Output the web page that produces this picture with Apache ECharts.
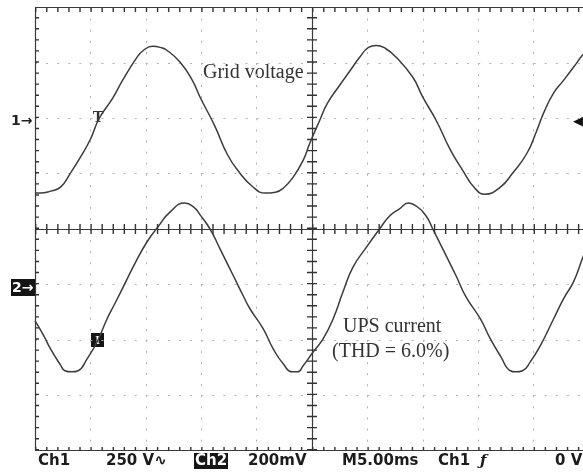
<!DOCTYPE html>
<html>
<head>
<meta charset="utf-8">
<script src="https://cdn.jsdelivr.net/npm/echarts@6/dist/echarts.min.js"></script>
<style>
  html, body { margin: 0; padding: 0; background: #fff; }
  #scope { width: 583px; height: 472px; }
</style>
</head>
<body>
<div id="scope"></div>
<script>
// scope settings: 5 ms/div, Ch1 250 V/div (ground 2 div above centre), Ch2 200 mV/div (ground 1 div below)
const TIME_PER_DIV = 5
const CH1_PER_DIV = 250
const CH2_PER_DIV = 200
// the photo cuts the graticule a little before its 10th division
const VISIBLE_DIVS = 548 / 55.4

// Ch1 - grid voltage, time in ms, value in V
const ch1Time = [0, 0.5, 1.4, 2.3, 3.2, 4.1, 5.0, 5.8, 7.0, 7.9, 9.2, 9.8, 10.6, 11.3, 11.9,
  13.1, 14.2, 14.9, 16.2, 17.4, 18.5, 19.6, 20.8, 21.7, 22.4, 23.3, 24.2, 24.8, 25.7, 26.4,
  27.5, 28.4, 29.3, 30.1, 30.8, 31.6, 32.6, 34.1, 35.0, 36.2, 37.5, 38.6, 39.7, 40.6, 42.0,
  43.1, 44.4, 45.3, 45.9, 46.8, 47.7, 48.6, 49.4, 50.0]
const ch1Volts = [-338, -338, -329, -311, -248, -176, -95, 0, 90, 171, 275, 307, 325, 320, 307,
  253, 171, 95, -32, -167, -248, -307, -338, -334, -316, -266, -190, -113, -9, 68,
  149, 212, 275, 320, 329, 316, 275, 185, 95, -9, -144, -235, -316, -343, -311,
  -248, -158, -54, 23, 113, 171, 230, 284, 316]

// Ch2 - UPS current (probe output), time in ms, value in mV
const ch2Time = [0, 0.7, 1.4, 2.3, 2.7, 3.3, 3.9, 4.7, 5.6, 6.5, 7.2, 8.1, 9.0, 10.1, 11.1,
  12.2, 13.5, 14.3, 14.9, 15.8, 16.7, 17.9, 18.8, 19.4, 20.6, 21.5, 22.4, 23.2, 23.7, 24.2,
  25.1, 26.0, 26.9, 27.8, 28.7, 30.0, 31.1, 32.0, 32.9, 33.7, 34.4, 35.3, 35.9, 36.8, 38.0,
  38.9, 40.2, 41.1, 42.0, 42.9, 43.4, 44.0, 44.7, 45.6, 46.8, 47.7, 48.6, 49.5, 50.0]
const ch2Millivolts = [-132, -179, -233, -291, -312, -316, -312, -269, -208, -125, -70, 2, 74, 153, 208,
  262, 294, 280, 251, 200, 128, 31, -42, -88, -161, -233, -287, -316, -316, -294,
  -244, -197, -125, -27, 62, 139, 200, 247, 273, 294, 283, 247, 200, 128, 31,
  -45, -125, -197, -258, -312, -316, -312, -280, -222, -125, -52, 9, 103, 146]

const chart = echarts.init(document.getElementById('scope'))

const INK = '#3a3a3a'
const DOTS = { color: '#b2b2b2', width: 1, type: [2, 9.08], cap: 'butt' }
const FRAME = { color: INK, width: 1.2, cap: 'butt' }
// minor-division marks: a wide dashed line gives one short mark every 1/5 div
const marks = (w) => ({ color: '#333', width: w, type: [1.4, 9.68], cap: 'butt' })
const TRACE = '#3c3c3c'
const SERIF = '"Liberation Serif", "DejaVu Serif", serif'
const MONO = 'bold 15px "DejaVu Sans", sans-serif'

// graticule axis in divisions (border and centre cross)
function divAxis(min, max, position, offset, lineStyle, extra) {
  return Object.assign({
    type: 'value',
    min: min,
    max: max,
    interval: 1,
    position: position,
    offset: offset,
    axisLine: { show: true, onZero: false, lineStyle: lineStyle },
    axisTick: { show: false },
    minorTick: { show: false },
    axisLabel: { show: false },
    splitLine: { show: false },
    silent: true,
  }, extra)
}

const pairs = (xs, ys) => xs.map((x, i) => [x, ys[i]])
const XD = VISIBLE_DIVS

chart.setOption({
  animation: false,
  backgroundColor: '#fff',
  grid: { left: 35, top: 7.5, width: 548, height: 443 },
  xAxis: [
    {
      type: 'value', position: 'bottom',
      min: 0, max: VISIBLE_DIVS * TIME_PER_DIV, interval: TIME_PER_DIV,
      axisLine: { show: true, onZero: false, lineStyle: FRAME },
      axisTick: { show: false },
      axisLabel: { show: false },
      splitLine: { show: true, lineStyle: DOTS },
    },
    divAxis(0, XD, 'top', 0, FRAME),
    divAxis(0, XD, 'bottom', -2, marks(4)),
    divAxis(0, XD, 'top', -2, marks(4)),
    divAxis(0, XD, 'bottom', -221.5, FRAME),
    divAxis(0, XD, 'bottom', -221.5, marks(10)),
  ],
  yAxis: [
    { type: 'value', show: false, min: -6 * CH1_PER_DIV, max: 2 * CH1_PER_DIV },
    { type: 'value', show: false, min: -3 * CH2_PER_DIV, max: 5 * CH2_PER_DIV },
    divAxis(-4, 4, 'left', 0, FRAME, { splitLine: { show: true, lineStyle: DOTS } }),
    divAxis(-4, 4, 'left', -2, marks(4)),
    divAxis(-4, 4, 'left', -277, FRAME),
    divAxis(-4, 4, 'left', -277, marks(10)),
  ],
  series: [
    {
      name: 'Grid voltage',
      type: 'line',
      xAxisIndex: 0,
      yAxisIndex: 0,
      data: pairs(ch1Time, ch1Volts),
      showSymbol: false,
      smooth: 0.5,
      lineStyle: { color: TRACE, width: 1.5 },
    },
    {
      name: 'UPS current',
      type: 'line',
      xAxisIndex: 0,
      yAxisIndex: 1,
      data: pairs(ch2Time, ch2Millivolts),
      showSymbol: false,
      smooth: 0.5,
      lineStyle: { color: TRACE, width: 1.5 },
    },
  ],
  graphic: [
    // annotations
    { type: 'text', x: 203, y: 73, style: { text: 'Grid voltage', font: '20px ' + SERIF, fill: '#333', verticalAlign: 'middle' } },
    { type: 'text', x: 343, y: 327, style: { text: 'UPS current', font: '20px ' + SERIF, fill: '#333', verticalAlign: 'middle' } },
    { type: 'text', x: 332, y: 352, style: { text: '(THD = 6.0%)', font: '20px ' + SERIF, fill: '#333', verticalAlign: 'middle' } },

    // channel markers
    { type: 'text', x: 11, y: 121, style: { text: '1→', font: 'bold 14px "DejaVu Sans", sans-serif', fill: '#222', verticalAlign: 'middle' } },
    { type: 'rect', shape: { x: 11, y: 279, width: 25, height: 17 }, style: { fill: '#151515' } },
    { type: 'text', x: 12, y: 288, style: { text: '2→', font: 'bold 14px "DejaVu Sans", sans-serif', fill: '#fff', verticalAlign: 'middle' } },
    { type: 'text', x: 98, y: 118, style: { text: 'T', font: 'bold 16px ' + SERIF, fill: '#333', align: 'center', verticalAlign: 'middle' } },
    { type: 'rect', shape: { x: 91, y: 333, width: 13, height: 14 }, style: { fill: '#151515' } },
    { type: 'text', x: 97.5, y: 340.5, style: { text: 'I', font: 'bold 12px ' + SERIF, fill: '#fff', align: 'center', verticalAlign: 'middle' } },
    { type: 'text', x: 573, y: 122, style: { text: '◀', font: '13px "DejaVu Sans", sans-serif', fill: '#111', verticalAlign: 'middle' } },

    // readout line
    { type: 'text', x: 38, y: 461, style: { text: 'Ch1', font: MONO, fill: '#1c1c1c', verticalAlign: 'middle' } },
    { type: 'text', x: 106, y: 461, style: { text: '250 V∿', font: MONO, fill: '#1c1c1c', verticalAlign: 'middle' } },
    { type: 'rect', shape: { x: 194, y: 453, width: 34, height: 16 }, style: { fill: '#151515' } },
    { type: 'text', x: 195, y: 461, style: { text: 'Ch2', font: MONO, fill: '#fff', verticalAlign: 'middle' } },
    { type: 'text', x: 248, y: 461, style: { text: '200mV', font: MONO, fill: '#1c1c1c', verticalAlign: 'middle' } },
    { type: 'text', x: 342, y: 461, style: { text: 'M5.00ms', font: MONO, fill: '#1c1c1c', verticalAlign: 'middle' } },
    { type: 'text', x: 438, y: 461, style: { text: 'Ch1', font: MONO, fill: '#1c1c1c', verticalAlign: 'middle' } },
    { type: 'text', x: 480, y: 461, style: { text: 'ƒ', font: 'bold italic 15px "DejaVu Serif", serif', fill: '#1c1c1c', verticalAlign: 'middle' } },
    { type: 'text', x: 555, y: 461, style: { text: '0 V', font: MONO, fill: '#1c1c1c', verticalAlign: 'middle' } },
  ],
})
</script>
</body>
</html>
